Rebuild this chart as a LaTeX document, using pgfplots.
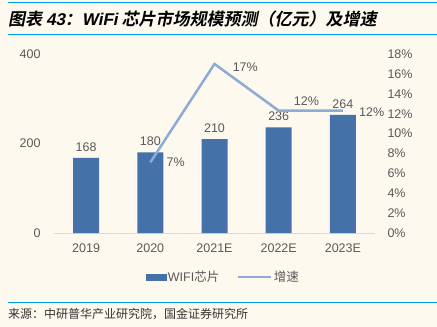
\documentclass[border=0pt]{standalone}
\usepackage{fontspec}
\usepackage{pgfplots}
\usepackage{pgfplotstable}
\pgfplotsset{compat=1.18}
\setmainfont{Liberation Sans}
\newfontfamily\cjk{Noto Sans CJK SC}
\newfontfamily\cjkt[FakeSlant=0.2]{Noto Sans CJK SC Bold}
\newfontfamily\latt[FakeSlant=0.2]{Liberation Sans Bold}
\definecolor{bg}{HTML}{FDF9EF}
\definecolor{barc}{HTML}{4472A8}
\definecolor{linec}{HTML}{8FAAD5}
\definecolor{txt}{HTML}{595959}
\definecolor{rulec}{HTML}{00A0E9}
\definecolor{axc}{HTML}{D9D9D9}
\newcommand{\cf}{\fontsize{12.5}{14}\selectfont}
\pgfplotsset{/pgf/number format/assume math mode=true}
\pgfplotstableread{
x y dx dy lab
1 7.1 15 0 7
2 17.0 17 -3 17
3 12.3 14 10 12
4 12.3 15 -1 12
}\growth
\begin{document}
\begin{tikzpicture}[x=1pt,y=1pt]
\fill[bg] (0,0) rectangle (437,-327);
\useasboundingbox (0,0) rectangle (437,-327);
\draw[rulec, line width=1pt] (8,-2) -- (437,-2);
\draw[rulec, line width=1pt] (8,-34) -- (437,-34);
\node[anchor=west, inner sep=0] at (8,-19) {\fontsize{17}{19}\selectfont\cjkt 图表 {\latt 43}：{\latt WiFi} 芯片市场规模预测（亿元）及增速};
\draw[rulec, line width=1pt] (8,-302) -- (437,-302);
\node[anchor=west, inner sep=0, text=black!80] at (8,-314) {\cjk\fontsize{12}{14}\selectfont 来源：中研普华产业研究院，国金证券研究所};

\begin{axis}[at={(54pt,-233pt)}, anchor=south west, scale only axis,
  width=321pt, height=179pt,
  xmin=-0.5, xmax=4.5, ymin=0, ymax=400,
  ytick={0,200,400}, xtick={0,1,2,3,4},
  xticklabels={2019,2020,2021E,2022E,2023E},
  /pgf/number format/assume math mode=true,
  axis x line*=bottom, axis y line*=left,
  axis line style={-},
  y axis line style={draw=none},
  x axis line style={draw=axc, line width=0.8pt},
  major tick length=0pt,
  ticklabel style={font=\cf, text=txt},
  yticklabel style={xshift=-10pt},
  xticklabel style={yshift=-7pt},
  clip=false]
\addplot[ybar, bar width=26pt, fill=barc, draw=none,
  nodes near coords,
  nodes near coords style={font=\cf, text=txt, yshift=3pt}]
  coordinates {(0,168) (1,180) (2,210) (3,236) (4,264)};
\end{axis}

\begin{axis}[at={(54pt,-233pt)}, anchor=south west, scale only axis,
  width=321pt, height=179pt,
  xmin=-0.5, xmax=4.5, ymin=0, ymax=18,
  ytick={0,2,...,18},
  /pgf/number format/assume math mode=true,
  yticklabel={\pgfmathprintnumber{\tick}\%},
  axis y line*=right, hide x axis,
  axis line style={-},
  y axis line style={draw=none},
  major tick length=0pt,
  ticklabel style={font=\cf, text=txt},
  yticklabel style={xshift=9pt},
  legend style={at={(0.527,-0.246)}, anchor=center, draw=none, fill=none,
    font=\cf, text=txt, legend columns=2,
    /tikz/every even column/.append style={column sep=15pt}},
  legend cell align=left,
  clip=false]
\addlegendimage{legend image code/.code={\fill[barc] (0pt,-3pt) rectangle (20pt,3pt);}}
\addlegendentry{WIFI{\cjk 芯片}}
\addplot[color=linec, line width=2.5pt, mark=none,
  point meta=explicit symbolic,
  visualization depends on={\thisrow{dx} \as \dx},
  visualization depends on={\thisrow{dy} \as \dy},
  nodes near coords={\pgfplotspointmeta\%},
  nodes near coords style={font=\cf, text=txt, anchor=west, inner sep=0pt, xshift=\dx pt, yshift=\dy pt},
  legend image code/.code={\draw[linec, line width=2.5pt] (0pt,0pt) -- (33pt,0pt);}]
  table[x=x, y=y, meta=lab] {\growth};
\addlegendentry{{\cjk 增速}}
\end{axis}
\end{tikzpicture}
\end{document}
